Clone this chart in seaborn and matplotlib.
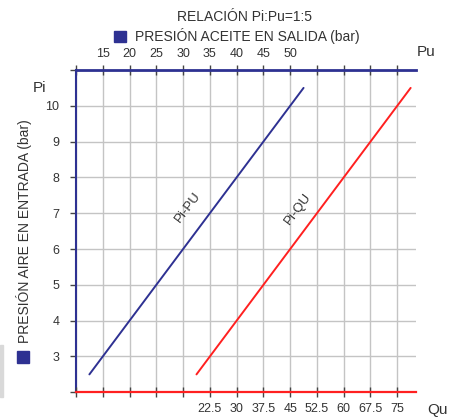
import matplotlib
matplotlib.use("Agg")
import matplotlib.pyplot as plt
from matplotlib.patches import Rectangle
import seaborn as sns
import numpy as np

# ---- data ----
pi_vals = [2.5, 10.5]          # Pi (bar)
pu_vals = [12.5, 52.5]         # Pu (bar), Pi:Pu = 1:5
qu_vals = [18.75, 78.75]       # Qu
pu_ticks = [10, 15, 20, 25, 30, 35, 40, 45, 50, 55, 60, 65, 70]
pu_labels = ["", "15", "20", "25", "30", "35", "40", "45", "50", "", "", "", ""]
qu_ticks = [-15, -7.5, 0, 7.5, 15, 22.5, 30, 37.5, 45, 52.5, 60, 67.5, 75]
qu_labels = ["", "", "", "", "", "22.5", "30", "37.5", "45", "52.5", "60", "67.5", "75"]
pi_ticks = [2, 3, 4, 5, 6, 7, 8, 9, 10, 11]
pi_labels = ["", "3", "4", "5", "6", "7", "8", "9", "10", ""]

BLUE = "#2e3192"
RED = "#ff2020"
GRID = "#c4c4c4"
TXT = "#333333"

sns.set_style("white")
plt.rcParams["font.family"] = ["Liberation Sans", "DejaVu Sans"]

W, H = 459, 418
fig = plt.figure(figsize=(W / 100, H / 100), dpi=100)
L, R, T, B = 76, 416, 70, 392.3
ax = fig.add_axes([L / W, 1 - B / H, (R - L) / W, (B - T) / H])
ax.set_facecolor("white")

sns.lineplot(x=pu_vals, y=pi_vals, ax=ax, color=BLUE, linewidth=1.4)
ax2 = ax.twiny()
sns.lineplot(x=qu_vals, y=pi_vals, ax=ax2, color=RED, linewidth=1.4)

ax.set_xlim(10, 73.5)
ax.set_ylim(2, 10.97)
ax2.set_xlim(-15, 80.25)
ax2.set_ylim(2, 10.97)

ax.set_xticks(pu_ticks)
ax.set_xticklabels(pu_labels)
ax.set_yticks(pi_ticks)
ax.set_yticklabels(pi_labels)
ax.grid(True, color=GRID, linewidth=1.0)
ax.set_axisbelow(True)
ax2.grid(False)

ax.tick_params(axis="x", which="both", top=True, bottom=False, labeltop=True,
               labelbottom=False, direction="inout", length=7, width=1,
               color="#444444", labelsize=9, labelcolor=TXT, pad=4)
ax.tick_params(axis="y", left=True, direction="out", length=4, width=1,
               color="#444444", labelsize=9, labelcolor=TXT, pad=8)

ax2.set_xticks(qu_ticks)
ax2.set_xticklabels(qu_labels)
ax2.tick_params(axis="x", bottom=True, top=False, labelbottom=True, labeltop=False,
                direction="inout", length=7, width=1,
                color="#444444", labelsize=9, labelcolor=TXT, pad=4)

for a in (ax, ax2):
    for s in ("right", "top", "bottom", "left"):
        a.spines[s].set_visible(False)
    a.set_xlabel("")
    a.set_ylabel("")

ax.spines["top"].set_visible(True)
ax.spines["top"].set_color(BLUE)
ax.spines["top"].set_linewidth(2)
ax.spines["left"].set_visible(True)
ax.spines["left"].set_color(BLUE)
ax.spines["left"].set_linewidth(1.5)
ax2.spines["bottom"].set_visible(True)
ax2.spines["bottom"].set_color(RED)
ax2.spines["bottom"].set_linewidth(1.6)

# line labels
ax.text(30.9, 7.16, "Pi-PU", rotation=53, ha="center", va="center",
        fontsize=9.5, color=TXT, rotation_mode="anchor")
ax2.text(47.1, 7.13, "Pi-QU", rotation=53, ha="center", va="center",
         fontsize=9.5, color=TXT, rotation_mode="anchor")

def fx(x):
    return x / W

def fy(y):
    return 1 - y / H

fig.text(fx(245), fy(17), "RELACIÓN Pi:Pu=1:5", ha="center", va="center",
         fontsize=10, color=TXT)
fig.patches.append(Rectangle((fx(114), fy(42)), 12 / W, 11 / H,
                             transform=fig.transFigure, color=BLUE))
fig.text(fx(135), fy(36.5), "PRESIÓN ACEITE EN SALIDA (bar)", ha="left", va="center",
         fontsize=10, color=TXT)
fig.text(fx(417), fy(52), "Pu", ha="left", va="center", fontsize=11, color=TXT)
fig.text(fx(427), fy(410), "Qu", ha="left", va="center", fontsize=11, color=TXT)
fig.text(fx(40), fy(88), "Pi", ha="center", va="center", fontsize=11, color=TXT)
fig.text(fx(24), fy(231), "PRESIÓN AIRE EN ENTRADA (bar)", rotation=90,
         ha="center", va="center", fontsize=10, color=TXT)
fig.patches.append(Rectangle((fx(17), fy(363)), 12 / W, 12 / H,
                             transform=fig.transFigure, color=BLUE))
fig.patches.append(Rectangle((0, fy(397)), 3 / W, 52 / H,
                             transform=fig.transFigure, color="#d9d9d9"))

fig.savefig("out.png", dpi=100, facecolor="white")
